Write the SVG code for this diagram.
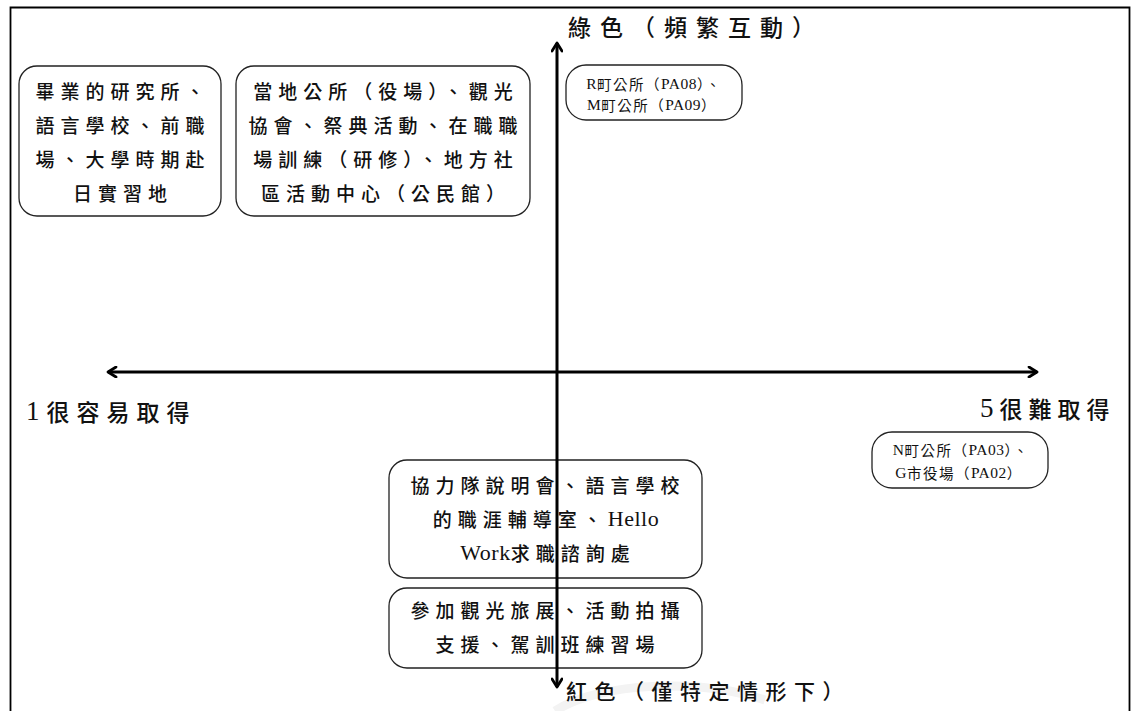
<svg xmlns="http://www.w3.org/2000/svg" width="1132" height="711" viewBox="0 0 1132 711">
<style>
.box{fill:#fff;stroke:#222;stroke-width:1.3}
.t{font-family:"Noto Sans CJK TC",sans-serif;fill:#111;text-anchor:middle;dominant-baseline:central}
.b{font-size:19px;letter-spacing:6px;font-weight:500}
.s{font-size:14.5px;letter-spacing:1.5px}
.lat{font-family:"Liberation Serif","DejaVu Serif",serif;letter-spacing:0.5px;font-size:15.5px}
.latb{font-family:"Liberation Serif","DejaVu Serif",serif;letter-spacing:0.5px;font-size:22px;font-weight:400}
.num{font-family:"Liberation Serif","DejaVu Serif",serif;font-size:27px;font-weight:400}
.lab{font-family:"Noto Sans CJK TC",sans-serif;fill:#111;dominant-baseline:central;font-weight:500}
.axis{stroke:#000;stroke-width:3;fill:none}
</style>
<defs>
<marker id="ah" viewBox="0 0 12 12" refX="10" refY="6" markerWidth="12" markerHeight="12" markerUnits="userSpaceOnUse" orient="auto-start-reverse">
<path d="M2,1 L10,6 L2,11" fill="none" stroke="#000" stroke-width="2.8" stroke-linecap="round" stroke-linejoin="round"/>
</marker>
</defs>
<rect x="0" y="0" width="1132" height="711" fill="#fff"/>
<path d="M555,711 C600,682 700,678 765,700" fill="none" stroke="#f3f3f3" stroke-width="9"/>
<path d="M10.5,711 L10.5,7.5 L1129.5,7.5 L1129.5,711" fill="none" stroke="#000" stroke-width="1.8"/>

<g id="label-top"><text class="lab" x="568" y="26" style="font-size:23px;letter-spacing:9px">綠色（頻繁互動）</text></g>
<g id="label-bottom"><text class="lab" x="566" y="690" style="font-size:21px;letter-spacing:7.5px">紅色（僅特定情形下）</text></g>
<g id="label-left"><text class="lab" x="26" y="411" style="font-size:23px;letter-spacing:7px"><tspan class="num">1</tspan>很容易取得</text></g>
<g id="label-right"><text class="lab" x="980" y="408" style="font-size:23px;letter-spacing:6px"><tspan class="num">5</tspan>很難取得</text></g>

<g id="node-graduate">
<rect class="box" x="19" y="66" width="202" height="150" rx="18"/>
<text class="t b" x="123" y="90">畢業的研究所、</text>
<text class="t b" x="123" y="124">語言學校、前職</text>
<text class="t b" x="123" y="158">場、大學時期赴</text>
<text class="t b" x="123" y="192">日實習地</text>
</g>
<g id="node-local">
<rect class="box" x="236" y="66" width="294" height="150" rx="18"/>
<text class="t b" x="386" y="90">當地公所（役場）、觀光</text>
<text class="t b" x="386" y="124">協會、祭典活動、在職職</text>
<text class="t b" x="386" y="158">場訓練（研修）、地方社</text>
<text class="t b" x="386" y="192">區活動中心（公民館）</text>
</g>
<g id="node-rm">
<rect class="box" x="566" y="65" width="176" height="55" rx="20"/>
<text class="t s" x="654" y="83"><tspan class="lat">R</tspan>町公所（<tspan class="lat">PA08</tspan>）、</text>
<text class="t s" x="652" y="104"><tspan class="lat">M</tspan>町公所（<tspan class="lat">PA09</tspan>）</text>
</g>
<g id="node-ng">
<rect class="box" x="872" y="432" width="176" height="56" rx="20"/>
<text class="t s" x="961" y="449"><tspan class="lat">N</tspan>町公所（<tspan class="lat">PA03</tspan>）、</text>
<text class="t s" x="959" y="472"><tspan class="lat">G</tspan>市役場（<tspan class="lat">PA02</tspan>）</text>
</g>
<g id="node-cooperation">
<rect class="box" x="389" y="460" width="313" height="118" rx="18"/>
<text class="t b" x="548" y="484">協力隊說明會、語言學校</text>
<text class="t b" x="546" y="518">的職涯輔導室、<tspan class="latb">Hello</tspan></text>
<text class="t b" x="548" y="552"><tspan class="latb">Work</tspan>求職諮詢處</text>
</g>
<g id="node-tourism">
<rect class="box" x="389" y="588" width="313" height="80" rx="18"/>
<text class="t b" x="548" y="609">參加觀光旅展、活動拍攝</text>
<text class="t b" x="548" y="643">支援、駕訓班練習場</text>
</g>

<g id="connectors">
<line class="axis" x1="557" y1="687" x2="557" y2="43" marker-start="url(#ah)" marker-end="url(#ah)"/>
<line class="axis" x1="108" y1="372" x2="1037" y2="372" marker-start="url(#ah)" marker-end="url(#ah)"/>
</g>
</svg>
